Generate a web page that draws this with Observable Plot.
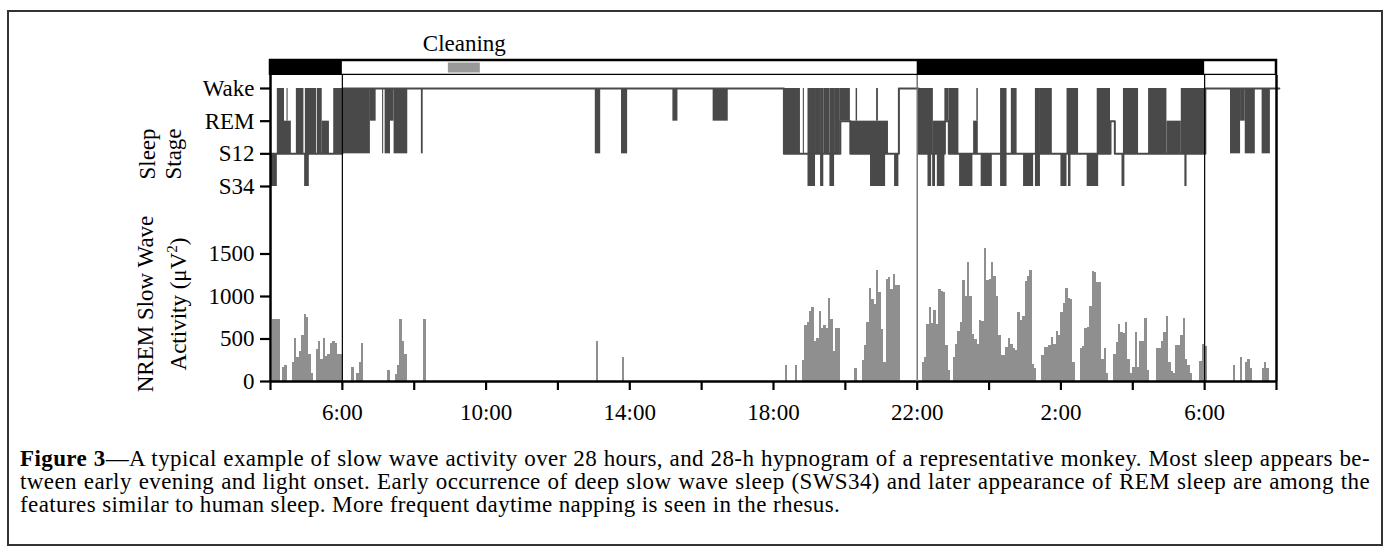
<!DOCTYPE html>
<html><head><meta charset="utf-8">
<script src="https://cdn.jsdelivr.net/npm/d3@7"></script>
<script src="https://cdn.jsdelivr.net/npm/@observablehq/plot@0.6"></script>
<style>
html,body{margin:0;padding:0;background:#fff;}
body{width:1390px;height:556px;position:relative;overflow:hidden;font-family:"Liberation Serif","Times New Roman",serif;color:#000;}
#frame{position:absolute;left:7px;top:10px;width:1372px;height:532px;border:2px solid #333;box-sizing:content-box;}
.layer{position:absolute;left:0;}
.ytitle{position:absolute;transform:translate(-50%,-50%) rotate(-90deg);white-space:nowrap;font-size:23px;text-align:center;}
#caption{position:absolute;left:20px;top:447px;width:1350px;font-size:23px;line-height:23px;letter-spacing:0.4px;}
.j{text-align:justify;text-align-last:justify;}
</style></head><body>
<div id="frame"></div>
<div id="l1" class="layer" style="top:25px"></div>
<div id="l2" class="layer" style="top:75px"></div>
<div id="l3" class="layer" style="top:200px"></div>
<div id="l4" class="layer" style="top:75px"></div>
<div class="ytitle" style="left:161px;top:154px;line-height:26px">Sleep<br>Stage</div>
<div class="ytitle" style="left:162px;top:304px;line-height:27px">NREM Slow Wave<br>Activity (μV<sup style="font-size:15px">2</sup>)</div>
<div id="caption">
<div class="j"><b>Figure 3</b>—A typical example of slow wave activity over 28 hours, and 28-h hypnogram of a representative monkey. Most sleep appears be-</div>
<div class="j">tween early evening and light onset. Early occurrence of deep slow wave sleep (SWS34) and later appearance of REM sleep are among the</div>
<div>features similar to human sleep. More frequent daytime napping is seen in the rhesus.</div>
</div>
<script>
// time axis: hours since 4:00 (0..28)
const startClock = 4;
const hourTicks = [0,2,4,6,8,10,12,14,16,18,20,22,24,26,28];
const labelledTicks = [2,6,10,14,18,22,26];

// light/dark schedule
const darkPeriods = [[0,2],[18,26]];
const cleaning = [[4.95,5.84]];

// sleep stages
const stageNames = ["Wake","REM","S12","S34"];

// hypnogram skeleton: [time, stage] change points (step-after)
const hypnoSteps = [
  [0,"S12"],[2.0,"Wake"],[14.29,"S12"],[15.86,"REM"],[16.14,"S12"],[17.49,"Wake"],
  [18.04,"S12"],[18.77,"REM"],[18.88,"S12"],[23.38,"REM"],[23.50,"S12"],[26.02,"Wake"],[28.08,"Wake"]
];
// rapid stage cycling episodes: [start, end, upper stage, lower stage]
const hypnoBursts = [
  [0.00,0.19,"S12","S34"],[0.19,0.39,"Wake","S12"],[0.39,0.58,"REM","S12"],[0.46,0.49,"Wake","REM"],
  [0.72,0.93,"Wake","S12"],[0.95,1.08,"S12","S34"],[0.97,1.28,"Wake","S12"],[1.30,1.44,"Wake","S12"],
  [1.44,1.64,"REM","S12"],[1.76,2.00,"Wake","S12"],
  [2.00,2.78,"Wake","S12"],[2.78,2.94,"Wake","REM"],[3.12,3.15,"Wake","S12"],[3.19,3.34,"Wake","S12"],
  [3.34,3.44,"Wake","REM"],[3.44,3.82,"Wake","S12"],[4.20,4.25,"Wake","S12"],
  [9.04,9.19,"Wake","S12"],[9.77,9.94,"Wake","S12"],[11.20,11.34,"Wake","REM"],[12.32,12.74,"Wake","REM"],
  [14.29,14.75,"Wake","S12"],[14.83,14.86,"Wake","S12"],[14.96,15.17,"Wake","S34"],[15.17,15.31,"Wake","S12"],
  [15.31,15.40,"Wake","S34"],[15.40,15.57,"Wake","S12"],[15.57,15.70,"Wake","S34"],[15.70,15.86,"Wake","S12"],
  [15.86,16.14,"Wake","REM"],[16.14,17.20,"REM","S12"],[16.30,16.34,"Wake","REM"],[16.70,17.12,"S12","S34"],
  [16.87,16.92,"Wake","REM"],[17.37,17.49,"S12","S34"],
  [18.04,18.45,"Wake","S12"],[18.30,18.40,"S12","S34"],[18.43,18.51,"S12","S34"],[18.45,18.77,"REM","S12"],
  [18.56,18.77,"S12","S34"],[18.77,18.88,"Wake","REM"],[18.88,19.16,"Wake","S12"],[19.18,19.55,"S12","S34"],
  [19.57,19.70,"REM","S12"],[19.66,19.70,"Wake","REM"],[19.78,20.09,"S12","S34"],[20.32,20.50,"Wake","S34"],
  [20.62,20.78,"Wake","S12"],[20.96,21.24,"S12","S34"],[21.29,21.43,"Wake","S34"],[21.43,21.76,"Wake","S12"],
  [22.00,22.17,"S12","S34"],[22.17,22.49,"Wake","S12"],[22.21,22.28,"S12","S34"],[22.73,23.05,"S12","S34"],
  [23.01,23.38,"Wake","S12"],[23.70,23.78,"S12","S34"],[23.74,24.16,"Wake","S12"],[24.44,24.95,"Wake","S12"],
  [24.95,25.35,"REM","S12"],[25.35,26.02,"Wake","S12"],[25.45,25.51,"S12","S34"],
  [26.72,27.00,"Wake","S12"],[27.00,27.13,"Wake","REM"],[27.13,27.41,"Wake","S12"],[27.60,27.83,"Wake","S12"]
];

// NREM slow wave activity, 4-min bins (15 per hour): run start bin and values (µV²)
const swaBinMinutes = 4;
const swaRunStart = [1,5,9,19,34,36,49,52,64,136,147,215,219,222,244,247,272,285,322,338,352,370,388,402,405,407,414];
const swaRunValues = [
  [730,730,730],
  [170,190],
  [224,507,287,354,540,787,755,322,98],
  [381,472,260,511,290,314,452,472,452,322,322],
  [170],
  [98,224,450],
  [126],
  [80,189,728,472,322],
  [728],
  [472],
  [283],
  [189],
  [189],
  [250,655,700,820,875,470,505,820,620,655,625,975,725,350,620,620],
  [157],
  [250,420,695,1100,960,910,1310,1050,610,228,1200,1220,1080,1260,1130,1130],
  [224,283,670,870,680,830,670,1080,1060,1050,420,130],
  [283,433,590,694,1185,997,1400,997,550,500,440,715,705,1565,1185,1200,1400,1230,997,543,303,303,401,511,440,390,360,814,723,760,1180,1240,1306,204,157],
  [303,401,401,429,514,440,590,543,809,920,1093,975,960,224],
  [393,413,629,640,885,1290,1280,1168,1160,256,393,98],
  [322,464,672,580,562,696,256,98,170,575,170,472,472,740,126],
  [393,393,472,580,767,224,114,98,425,425,543,740,256,189,98],
  [230,440,413],
  [189],
  [283],
  [224,255,157],
  [157,224,157]
];
const swaTicks = [0,500,1000,1500];

// ---- derived tables ----
const stageIndex = s => stageNames.indexOf(s);
const swa = [];
swaRunStart.forEach((b0,k) => swaRunValues[k].forEach((v,i) => {
  const b = b0 + i;
  swa.push({t1: b*swaBinMinutes/60, t2: (b+1)*swaBinMinutes/60, v});
}));
const steps = hypnoSteps.map(([t,s]) => ({t, s: stageIndex(s)}));
const bursts = hypnoBursts.map(([t1,t2,a,b]) => ({t1,t2,a:stageIndex(a),b:stageIndex(b)}));
const darks = darkPeriods.map(([t1,t2]) => ({t1,t2}));
const cleans = cleaning.map(([t1,t2]) => ({t1,t2}));

const W = 1390, ML = 270, MR = 114;
const font = {fontFamily:"'Liberation Serif','Times New Roman',serif", fontSize:"23px", background:"transparent", color:"#000"};
const xs = {domain:[0,28]};
const hyp = "#494949";
const bar = "#8f8f8f";

// light/dark bar
document.getElementById("l1").append(Plot.plot({
  width:W, height:50, marginLeft:ML, marginRight:MR, marginTop:35, marginBottom:0,
  style:font, x:{...xs, axis:null},
  marks:[
    Plot.rect([{t1:0,t2:28}], {x1:"t1", x2:"t2", fill:"white", stroke:"black", strokeWidth:2.5}),
    Plot.rect(darks, {x1:"t1", x2:"t2", fill:"black"}),
    Plot.rect(cleans, {x1:"t1", x2:"t2", fill:"#999", insetTop:2.5, insetBottom:2.5}),
    Plot.text(cleans, {x: d => (d.t1+d.t2)/2, frameAnchor:"top", dy:-26, text: () => "Cleaning", fontSize:23})
  ]
}));

// hypnogram
document.getElementById("l2").append(Plot.plot({
  width:W, height:125, marginLeft:ML, marginRight:MR, marginTop:13, marginBottom:14,
  style:font, x:{...xs, axis:null}, y:{domain:[3,0], axis:null},
  marks:[
    Plot.rect(bursts, {x1:"t1", x2:"t2", y1:"a", y2:"b", fill:hyp}),
    Plot.line(steps, {x:"t", y:"s", curve:"step-after", stroke:hyp, strokeWidth:2}),
    Plot.axisY({ticks:[0,1,2,3], tickFormat: i => stageNames[i], tickSize:10, tickPadding:6, strokeWidth:2.2, label:null})
  ]
}));

// slow wave activity
document.getElementById("l3").append(Plot.plot({
  width:W, height:230, marginLeft:ML, marginRight:MR, marginTop:11, marginBottom:49,
  style:font, x:{...xs}, y:{domain:[0,2000]},
  marks:[
    Plot.rect(swa, {x1:"t1", x2:"t2", y1:0, y2:"v", fill:bar, shapeRendering:"crispEdges"}),
    Plot.ruleY([0], {strokeWidth:2.5}),
    Plot.axisY({ticks:swaTicks, tickFormat:"d", tickSize:10, tickPadding:6, strokeWidth:2.2, label:null}),
    Plot.axisX({ticks:hourTicks, tickSize:9, tickPadding:13, strokeWidth:2.2, label:null,
      tickFormat: t => labelledTicks.includes(t) ? `${(t+startClock)%24}:00` : ""})
  ]
}));

// frame and light-transition lines spanning both panels
const vlines = [
  {t:0, w:2.5, c:"black"},{t:28, w:2.5, c:"black"},
  {t:2, w:1.2, c:"black"},{t:26, w:1.2, c:"black"},{t:18, w:1.5, c:"#777"}
];
document.getElementById("l4").append(Plot.plot({
  width:W, height:306, marginLeft:ML, marginRight:MR, marginTop:0, marginBottom:0,
  style:{...font, pointerEvents:"none"}, x:{...xs, axis:null},
  marks:[Plot.ruleX(vlines, {x:"t", strokeWidth:"w", stroke:"c"})]
}));
</script>
</body></html>
